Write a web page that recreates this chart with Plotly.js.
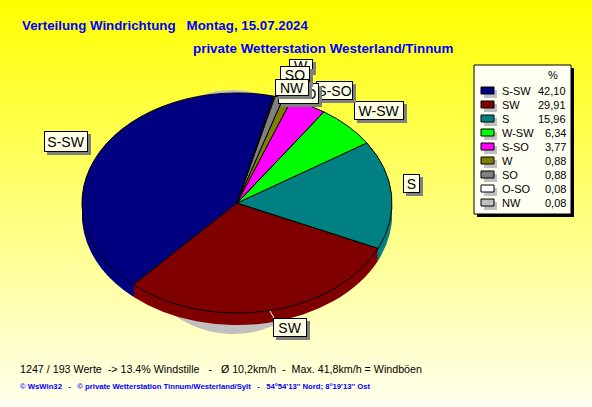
<!DOCTYPE html>
<html><head><meta charset="utf-8">
<script src="https://cdn.plot.ly/plotly-3.0.1.min.js"></script>
<style>
html,body{margin:0;padding:0;width:592px;height:407px;overflow:hidden;background:linear-gradient(to bottom,#ffff00 0%,#ffffee 100%)}
#c{width:592px;height:407px}
</style></head><body><div id="c"></div>
<script>
const categories=['S-SW','SW','S','W-SW','S-SO','W','SO','O-SO','NW'];
const percent=[42.10,29.91,15.96,6.34,3.77,0.88,0.88,0.08,0.08];
const percentLabels=['42,10','29,91','15,96','6,34','3,77','0,88','0,88','0,08','0,08'];
const sliceColors=['#000080','#800000','#008080','#00ff00','#ff00ff','#808000','#808080','#ffffff','#c0c0c0'];
const titleLine1='Verteilung Windrichtung\u00a0\u00a0\u00a0Montag, 15.07.2024';
const titleLine2='private Wetterstation Westerland/Tinnum';
const footerLine1='1247 / 193 Werte\u00a0\u00a0-> 13.4% Windstille\u00a0\u00a0\u00a0-\u00a0\u00a0\u00a0\u00d8 10,2km/h\u00a0\u00a0-\u00a0\u00a0Max. 41,8km/h = Windb\u00f6en';
const footerLine2='\u00a9 WsWin32\u00a0\u00a0\u00a0-\u00a0\u00a0\u00a0\u00a9 private Wetterstation Tinnum/Westerland/Sylt\u00a0\u00a0\u00a0-\u00a0\u00a0\u00a054\u00b054\'13\'\' Nord; 8\u00b019\'13\'\' Ost';

const W=592,H=407,R=155,CX=237,CY=203,SQ=0.71,ROT=13.6-percent[0]*3.6;
const px=x=>x/W, py=y=>1-y/H;
const dom={x:[px(CX-R),px(CX+R)],y:[py(CY+R),py(CY-R)]};
function pie(colors,line){return {type:'pie',labels:categories,values:percent,sort:false,direction:'counterclockwise',rotation:ROT,
  domain:dom,textinfo:'none',hoverinfo:'skip',showlegend:false,marker:{colors:colors,line:{color:'#000',width:line}}};}
const gray=categories.map(()=>'#c0c0c0');
const depths=[12,10,8,6,4,2];
const xf=[[-4,9,110/155,122/155]];
const traces=[pie(gray,0)];
depths.forEach(d=>{traces.push(pie(sliceColors,0));xf.push([0,d,1,SQ]);});
traces.push(pie(sliceColors,1));xf.push([0,0,1,SQ]);

const shapes=[],ann=[];
function rect(x0,y0,x1,y1,fill,line){shapes.push({type:'rect',xref:'paper',yref:'paper',x0:px(x0),x1:px(x1),y0:py(y1),y1:py(y0),fillcolor:fill,line:{color:line||fill,width:line?1:0}});}
function txt(x,y,t,size,color,anchor,bold){ann.push({xref:'paper',yref:'paper',x:px(x),y:py(y),text:bold?'<b>'+t+'</b>':t,showarrow:false,xanchor:anchor||'left',yanchor:'middle',borderpad:0,borderwidth:0,font:{family:'Liberation Sans',size:size,color:color}});}
function box(x0,y0,x1,y1,t){
  ann.push({xref:'paper',yref:'paper',x:px((x0+x1)/2+3),y:py((y0+y1)/2+3),width:x1-x0,height:y1-y0,text:'\u00a0',showarrow:false,bgcolor:'#808080',borderpad:0,borderwidth:0,xanchor:'center',yanchor:'middle',font:{size:10}});
  ann.push({xref:'paper',yref:'paper',x:px((x0+x1)/2),y:py((y0+y1)/2),width:x1-x0-2,height:y1-y0-2,text:t,showarrow:false,bgcolor:'#ffffe6',bordercolor:'#000',borderwidth:1,borderpad:0,xanchor:'center',yanchor:'middle',font:{family:'Liberation Sans',size:14,color:'#000'}});
}
function leader(x0,y0,x1,y1){shapes.push({type:'line',xref:'paper',yref:'paper',x0:px(x0),x1:px(x1),y0:py(y0),y1:py(y1),line:{color:'#fff',width:1}});}

txt(22,25,titleLine1,13.3,'#0000ff','left',true);
txt(193,49,titleLine2,13.4,'#0000ff','left',true);
txt(20,369,footerLine1,10.7,'#000','left');
txt(20,386,footerLine2,7.7,'#0000ff','left',true);

leader(270,311,274,318);leader(352,125,356,121);
box(44,131,88,152,categories[0]);
box(354,101,404,120,categories[3]);
box(403,174,420,193,categories[2]);
box(273,318,307,337,categories[1]);
box(316,81,353,100,categories[4]);
box(289,59,313,72,categories[5]);
box(278,83,319,104,categories[7]);
box(280,66,310,84,categories[6]);
box(275,79,309,96,categories[8]);

rect(477,68,574,217,'#000');
rect(474,65,571,214,'#fffff2','#000');
txt(553,75,'%',11,'#000','center');
categories.forEach((c,i)=>{
  const y=91+14*i;
  rect(484,y-1,497,y+7,'#c0c0c0');
  rect(481,y-4,494,y+3,sliceColors[i],'#000');
  txt(502,y,c,11,'#000','left');
  txt(566,y,percentLabels[i],11,'#000','right');
});

Plotly.newPlot('c',traces,{width:W,height:H,margin:{l:0,r:0,t:0,b:0},paper_bgcolor:'rgba(0,0,0,0)',plot_bgcolor:'rgba(0,0,0,0)',shapes:shapes,annotations:ann},{displayModeBar:false,staticPlot:true}).then(gd=>{
  gd.querySelectorAll('.pielayer .trace').forEach((g,i)=>{
    const t=xf[i];
    g.setAttribute('transform',`translate(${CX+t[0]},${CY+t[1]}) scale(${t[2]},${t[3]}) translate(${-CX},${-CY})`);
    g.querySelectorAll('path').forEach(p=>p.style.vectorEffect='non-scaling-stroke');
  });
});
</script></body></html>
